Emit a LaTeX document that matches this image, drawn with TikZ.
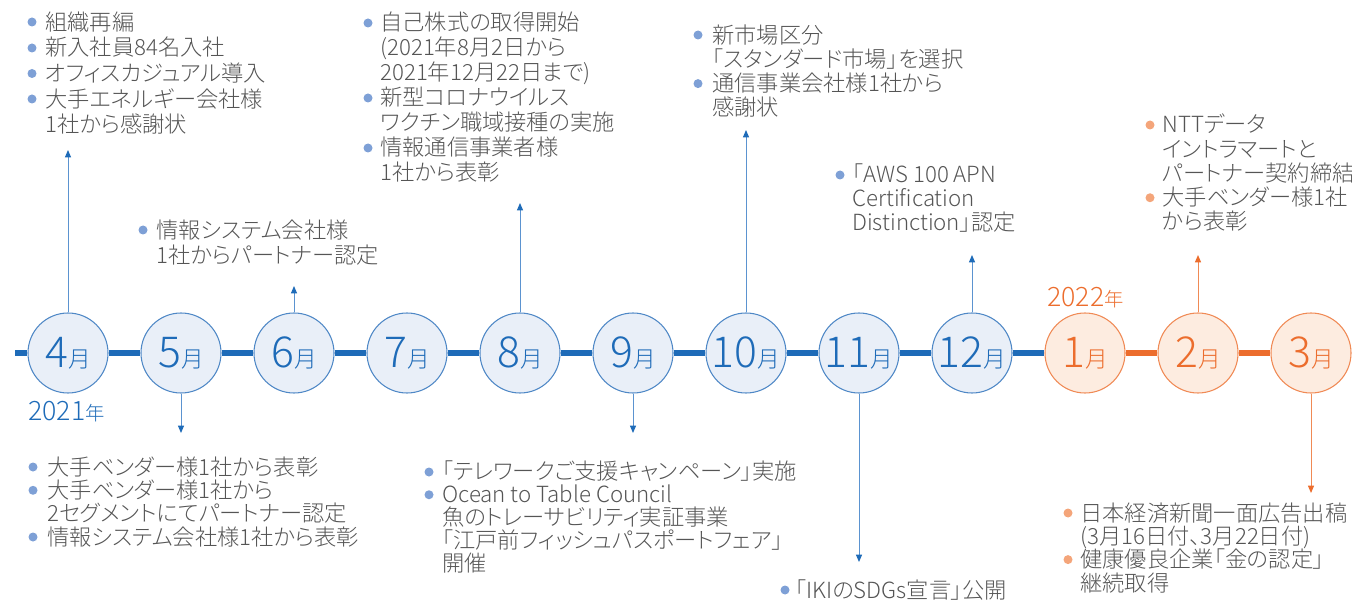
\documentclass[tikz,border=0pt]{standalone}
\usepackage{fontspec}
\IfFontExistsTF{Noto Sans CJK JP Light}
  {\setmainfont{Noto Sans CJK JP Light}[RawFeature=+palt]}
  {\setmainfont{Noto Sans CJK JP}[RawFeature=+palt]}
\usetikzlibrary{arrows.meta}
\definecolor{tblue}{HTML}{1E6BB8}
\definecolor{cblue}{HTML}{4F88C6}
\definecolor{fblue}{HTML}{E9EFF8}
\definecolor{lblue}{HTML}{5B93D0}
\definecolor{bblue}{HTML}{7EA0D6}
\definecolor{torange}{HTML}{EC6D2D}
\definecolor{corange}{HTML}{F08A55}
\definecolor{forange}{HTML}{FDECE0}
\definecolor{borange}{HTML}{F4A57A}
\definecolor{txtgray}{HTML}{555555}
\newcommand\mlab[1]{{\fontsize{32pt}{32pt}\selectfont #1}{\fontsize{17pt}{17pt}\selectfont 月}}
\tikzset{
  mb/.style={circle, minimum size=60pt, inner sep=0pt, draw=cblue, fill=fblue, line width=0.8pt, text=tblue},
  mo/.style={circle, minimum size=60pt, inner sep=0pt, draw=corange, fill=forange, line width=0.8pt, text=torange},
  tlb/.style={draw=tblue, line width=3.8pt},
  tlo/.style={draw=torange, line width=3.8pt},
  leadb/.style={draw=lblue, line width=0.75pt, -{Triangle[length=5.5pt,width=4.5pt,color=tblue]}},
  leado/.style={draw=corange, line width=0.75pt, -{Triangle[length=5.5pt,width=4.5pt,color=torange]}},
  blk/.style={font=\fontsize{16.7pt}{#1pt}\selectfont, text=txtgray, align=left, inner sep=0pt, anchor=base west},
  yr/.style={anchor=base west, inner sep=0pt},
  bulb/.style={fill=bblue},
  bulo/.style={fill=borange},
}
\begin{document}
\begin{tikzpicture}[x=0.75pt,y=-0.75pt]
\useasboundingbox (0,0) rectangle (1352,602);
% month circles
\node[mb] (m4)  at (68,353)   {\mlab{4}};
\node[mb] (m5)  at (181,353)  {\mlab{5}};
\node[mb] (m6)  at (294,353)  {\mlab{6}};
\node[mb] (m7)  at (407,353)  {\mlab{7}};
\node[mb] (m8)  at (520,353)  {\mlab{8}};
\node[mb] (m9)  at (633,353)  {\mlab{9}};
\node[mb] (m10) at (746,353)  {\mlab{10}};
\node[mb] (m11) at (859,353)  {\mlab{11}};
\node[mb] (m12) at (972,353)  {\mlab{12}};
\node[mo] (m1)  at (1085,353) {\mlab{1}};
\node[mo] (m2)  at (1198,353) {\mlab{2}};
\node[mo] (m3)  at (1311,353) {\mlab{3}};
\coordinate (start) at (15,353);
% timeline
\draw[tlb] (start) -- (m4) -- (m5) -- (m6) -- (m7) -- (m8) -- (m9) -- (m10) -- (m11) -- (m12) -- (m1);
\draw[tlo] (m1) -- (m2) -- (m3);
% years
\node[yr, text=tblue] (y21) at (28,420)
  {{\fontsize{20pt}{20pt}\selectfont 2021}{\fontsize{14.5pt}{14.5pt}\selectfont 年}};
\node[yr, text=torange] (y22) at (1047,306)
  {{\fontsize{20pt}{20pt}\selectfont 2022}{\fontsize{14.5pt}{14.5pt}\selectfont 年}};
% leader end points
\coordinate (t4) at (68,150);
\coordinate (t5) at (181,433);
\coordinate (t6) at (294,286);
\coordinate (t8) at (520,203);
\coordinate (t9) at (633,433);
\coordinate (t10) at (746,130);
\coordinate (t11) at (859,562);
\coordinate (t12) at (972,255);
\coordinate (t2) at (1198,255);
\coordinate (t3) at (1311,493);
\draw[leadb] (m4.north) -- (t4);
\draw[leadb] (m5.south) -- (t5);
\draw[leadb] (m6.north) -- (t6);
\draw[leadb] (m8.north) -- (t8);
\draw[leadb] (m9.south) -- (t9);
\draw[leadb] (m10.north) -- (t10);
\draw[leadb] (m11.south) -- (t11);
\draw[leadb] (m12.north) -- (t12);
\draw[leado] (m2.north) -- (t2);
\draw[leado] (m3.south) -- (t3);
% text blocks (anchored at the baseline of their last line)
\node[blk=19.3] (a4) at (45,133) {組織再編\\新入社員84名入社\\オフィスカジュアル導入\\大手エネルギー会社様\\1社から感謝状};
\foreach \y in {22,48,73.5,99} \fill[bulb] (32,\y) circle (4.5);
\node[blk=18.75] (a6) at (156,263) {情報システム会社様\\1社からパートナー認定};
\fill[bulb] (143,230) circle (4.5);
\node[blk=18.75] (a8) at (380,181) {自己株式の取得開始\\(2021年8月2日から\\2021年12月22日まで)\\新型コロナウイルス\\ワクチン職域接種の実施\\情報通信事業者様\\1社から表彰};
\foreach \y in {23,98,148} \fill[bulb] (368,\y) circle (4.5);
\node[blk=18.2] (a10) at (712,116) {新市場区分\\「スタンダード市場」を選択\\通信事業会社様1社から\\感謝状};
\foreach \y in {35,83.6} \fill[bulb] (698,\y) circle (4.5);
\node[blk=18] (a12) at (852,231) {「AWS 100 APN\\ Certification\\ Distinction」認定};
\fill[bulb] (840,175) circle (4.5);
\node[blk=18.2] (a2) at (1162,230) {NTTデータ\\イントラマートと\\パートナー契約締結\\大手ベンダー様1社\\から表彰};
\foreach \y in {125,197.75} \fill[bulo] (1150,\y) circle (4.5);
\node[blk=17.5] (b5) at (47,545) {大手ベンダー様1社から表彰\\大手ベンダー様1社から\\2セグメントにてパートナー認定\\情報システム会社様1社から表彰};
\foreach \y in {467,490.3,537} \fill[bulb] (33,\y) circle (4.5);
\node[blk=17.1] (b9) at (442,571) {「テレワークご支援キャンペーン」実施\\Ocean to Table Council\\魚のトレーサビリティ実証事業\\「江戸前フィッシュパスポートフェア」\\開催};
\foreach \y in {472,494.75} \fill[bulb] (429,\y) circle (4.5);
\node[blk=17.5] (b11) at (795,598) {「IKIのSDGs宣言」公開};
\fill[bulb] (785,590) circle (4.5);
\node[blk=17.5] (b3) at (1080,591) {日本経済新聞一面広告出稿\\(3月16日付、3月22日付)\\健康優良企業「金の認定」\\継続取得};
\foreach \y in {513,559.6} \fill[bulo] (1068,\y) circle (4.5);
\end{tikzpicture}
\end{document}
